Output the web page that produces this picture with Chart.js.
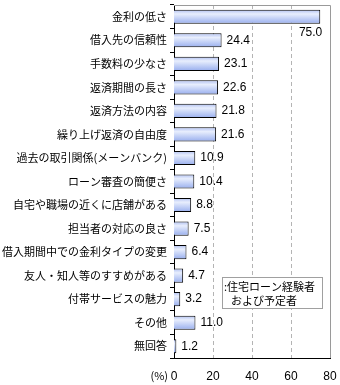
<!DOCTYPE html>
<html><head><meta charset="utf-8">
<script src="https://cdn.jsdelivr.net/npm/chart.js@4/dist/chart.umd.min.js"></script>
<style>html,body{margin:0;padding:0;background:#fff;}canvas{display:block;}</style>
</head><body>
<canvas id="c" width="340" height="385"></canvas>
<script>
const categories = [
  "金利の低さ","借入先の信頼性","手数料の少なさ","返済期間の長さ","返済方法の内容",
  "繰り上げ返済の自由度","過去の取引関係(メーンバンク)","ローン審査の簡便さ",
  "自宅や職場の近くに店舗がある","担当者の対応の良さ","借入期間中での金利タイプの変更",
  "友人・知人等のすすめがある","付帯サービスの魅力","その他","無回答"
];
const values = [75.0,24.4,23.1,22.6,21.8,21.6,10.9,10.4,8.8,7.5,6.4,4.7,3.2,11.0,1.2];
const xTicks = [0,20,40,60,80];
const gridValues = [20,40,60];
const legendLines = [":住宅ローン経験者","および予定者"];
const unitLabel = "(%)";

const JP = '"Noto Sans CJK JP", sans-serif';
const NUM = '"Liberation Sans", Arial, sans-serif';

const overlay = {
  id: 'overlay',
  beforeDatasetsDraw(chart) {
    const ctx = chart.ctx, a = chart.chartArea, xs = chart.scales.x;
    ctx.save();
    ctx.strokeStyle = '#b4b4b4'; ctx.lineWidth = 1;
    ctx.setLineDash([4, 3]);
    gridValues.forEach(v => {
      const x = Math.round(xs.getPixelForValue(v)) + 0.5;
      ctx.beginPath(); ctx.moveTo(x, a.top); ctx.lineTo(x, a.bottom); ctx.stroke();
    });
    ctx.restore();
  },
  afterDatasetsDraw(chart) {
    const ctx = chart.ctx, a = chart.chartArea;
    ctx.save();
    ctx.strokeStyle = '#9a9a9a'; ctx.lineWidth = 1;
    ctx.beginPath();
    ctx.moveTo(a.left, a.top + 0.5); ctx.lineTo(Math.round(a.right) + 0.5, a.top + 0.5);
    ctx.lineTo(Math.round(a.right) + 0.5, a.bottom);
    ctx.stroke();
    const meta = chart.getDatasetMeta(0);
    ctx.font = '12px ' + NUM; ctx.fillStyle = '#000';
    meta.data.forEach((el, i) => {
      const txt = values[i].toFixed(1);
      const w = ctx.measureText(txt).width;
      ctx.textBaseline = 'middle';
      if (el.x + 4 + w > a.right) {
        ctx.textAlign = 'right';
        ctx.fillText(txt, el.x + 2, el.y + el.height / 2 + 9);
      } else {
        ctx.textAlign = 'left';
        ctx.fillText(txt, el.x + 5, el.y);
      }
    });
    ctx.fillStyle = '#fff';
    ctx.fillRect(222, 277, 100, 31);
    ctx.strokeStyle = '#a0a0a0';
    ctx.strokeRect(222.5, 277.5, 100, 31);
    ctx.fillStyle = '#000'; ctx.font = '11px ' + JP;
    ctx.textAlign = 'left'; ctx.textBaseline = 'middle';
    ctx.fillText(legendLines[0], 224, 287);
    ctx.fillText(legendLines[1], 231, 301);
    ctx.textAlign = 'right';
    ctx.fillText(unitLabel, 168, 376);
    ctx.restore();
  }
};

new Chart(document.getElementById('c'), {
  type: 'bar',
  data: {
    labels: categories,
    datasets: [{
      data: values,
      borderColor: '#000',
      borderWidth: 1,
      barPercentage: 0.6,
      categoryPercentage: 1,
      backgroundColor(ctx) {
        const chart = ctx.chart, ys = chart.scales.y;
        if (!ys || !chart.chartArea || ctx.dataIndex === undefined) return '#c0ccf4';
        const c = ys.getPixelForValue(ctx.dataIndex);
        const h = ys.height / categories.length * 0.6;
        const g = chart.ctx.createLinearGradient(0, c - h / 2, 0, c + h / 2);
        g.addColorStop(0, '#b0c0f2');
        g.addColorStop(0.3, '#e8eefd');
        g.addColorStop(1, '#98aeee');
        return g;
      }
    }]
  },
  options: {
    indexAxis: 'y',
    responsive: false,
    animation: false,
    layout: { padding: { left: 0, top: 5, right: 10, bottom: 0 } },
    plugins: { legend: { display: false }, tooltip: { enabled: false } },
    scales: {
      x: {
        min: 0, max: 80,
        afterBuildTicks(s) { s.ticks = xTicks.map(v => ({ value: v })); },
        afterFit(s) { s.height = 27; s.paddingLeft = 0; s.paddingRight = 0; },
        grid: { display: false, drawTicks: false },
        border: { display: true, color: '#000', width: 1 },
        ticks: { color: '#000', font: { family: NUM, size: 12 }, padding: 11, maxRotation: 0 }
      },
      y: {
        afterFit(s) { s.width = 174; s.paddingTop = 0; s.paddingBottom = 0; },
        grid: { drawOnChartArea: false, drawTicks: true, tickLength: 4, color: '#000', offset: true },
        border: { display: true, color: '#000', width: 1 },
        ticks: { color: '#000', font: { family: JP, size: 11 }, padding: 3, autoSkip: false }
      }
    }
  },
  plugins: [overlay]
});
</script>
</body></html>
